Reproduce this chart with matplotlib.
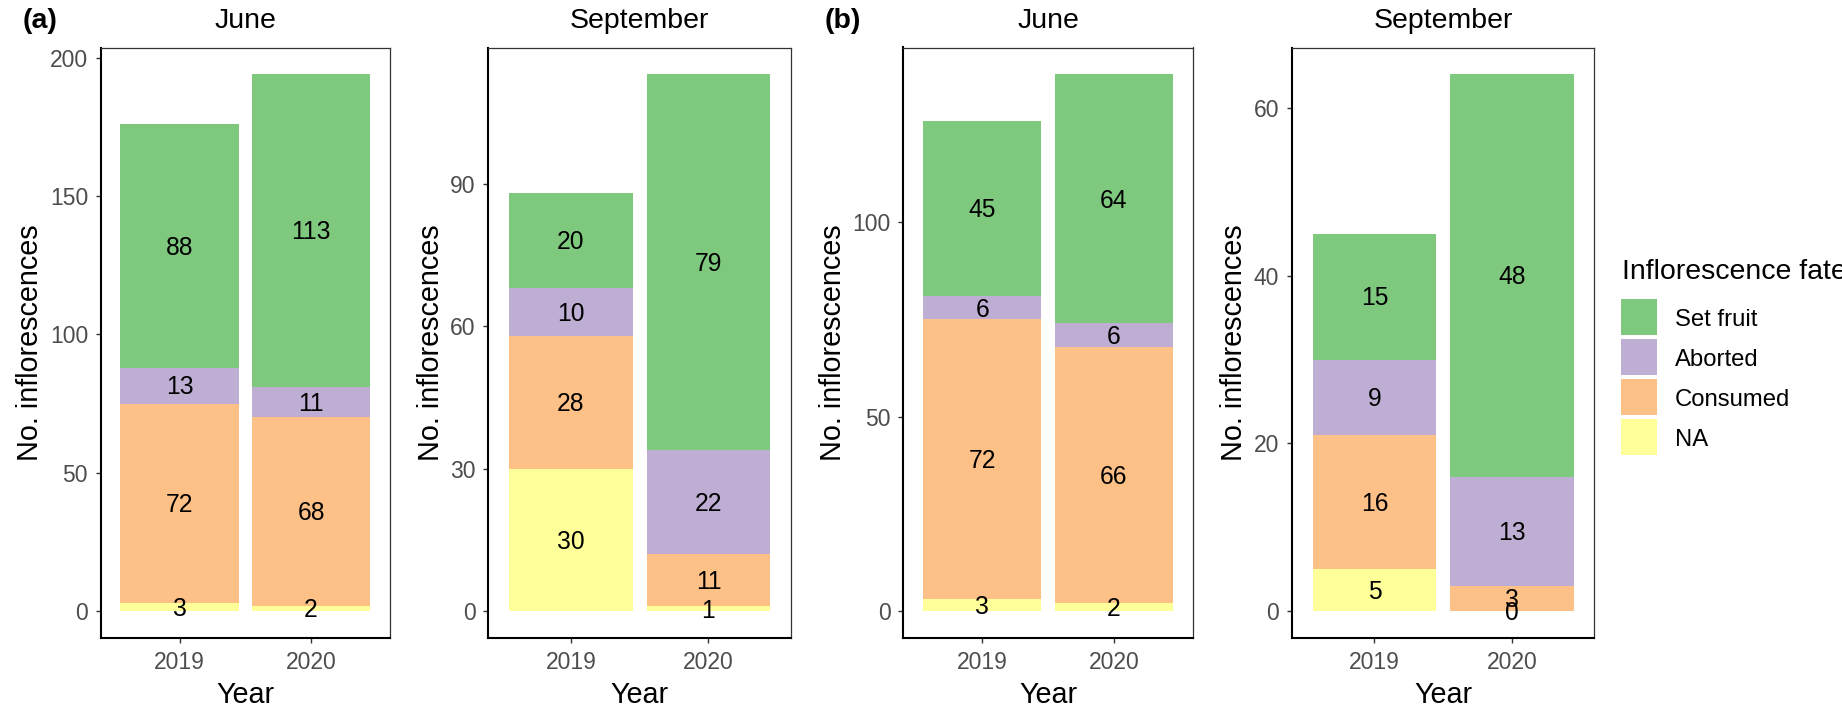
import matplotlib
matplotlib.use("Agg")
import matplotlib.pyplot as plt
from matplotlib.patches import Rectangle
from matplotlib.transforms import offset_copy

plt.rcParams["font.family"] = ["Liberation Sans", "DejaVu Sans"]

# ---- data -----------------------------------------------------------------
years = ["2019", "2020"]
fates = ["NA", "Consumed", "Aborted", "Set fruit"]          # stacking order, bottom -> top
fate_colors = ["#FFFF99", "#FDC086", "#BEAED4", "#7FC97F"]
legend_order = ["Set fruit", "Aborted", "Consumed", "NA"]

# counts per fate (NA, Consumed, Aborted, Set fruit) for 2019 and 2020
a_june_2019 = [3, 72, 13, 88]
a_june_2020 = [2, 68, 11, 113]
a_sept_2019 = [30, 28, 10, 20]
a_sept_2020 = [1, 11, 22, 79]
b_june_2019 = [3, 72, 6, 45]
b_june_2020 = [2, 66, 6, 64]
b_sept_2019 = [5, 16, 9, 15]
b_sept_2020 = [0, 3, 13, 48]

a_june_ticks = [0, 50, 100, 150, 200]
a_sept_ticks = [0, 30, 60, 90]
b_june_ticks = [0, 50, 100]
b_sept_ticks = [0, 20, 40, 60]

# ---- layout (pixels) --------------------------------------------------------
W, H = 1842, 708
fig = plt.figure(figsize=(W / 100, H / 100), dpi=100)


def px_axes(x0, y0, x1, y1):
    return fig.add_axes([x0 / W, 1 - y1 / H, (x1 - x0) / W, (y1 - y0) / H])


def fig_text(x, y, s, **kw):
    return fig.text(x / W, 1 - y / H, s, **kw)


TICK_FS = 16.5
LABEL_FS = 17.7
LEGEND_FS = 17.2
AXTITLE_FS = 20.7
TITLE_FS = 20.5


def stacked_panel(ax, vals_2019, vals_2020, ticks, title):
    xs = [1, 2]
    bottoms = [0, 0]
    for i, (fate, col) in enumerate(zip(fates, fate_colors)):
        heights = [vals_2019[i], vals_2020[i]]
        ax.bar(xs, heights, width=0.9, bottom=bottoms, color=col,
               edgecolor="none", zorder=2)
        for x, b, h in zip(xs, bottoms, heights):
            tr = offset_copy(ax.transData, fig=fig, x=0,
                             y=-0.358 * LABEL_FS, units="points")
            ax.text(x, b + h / 2, str(h), ha="center", va="baseline",
                    fontsize=LABEL_FS, color="black", transform=tr, zorder=3)
        bottoms = [b + h for b, h in zip(bottoms, heights)]

    top = max(bottoms)
    ax.set_ylim(-0.05 * top, 1.05 * top)
    ax.set_xlim(0.4, 2.6)
    ax.set_xticks(xs)
    ax.set_xticklabels(years)
    ax.set_yticks(ticks)
    ax.tick_params(axis="both", labelsize=TICK_FS, labelcolor="#4D4D4D",
                   color="#333333", length=3.6, width=1.0, pad=5.5)
    for side in ("left", "bottom"):
        ax.spines[side].set_color("black")
        ax.spines[side].set_linewidth(1.5)
    for side in ("top", "right"):
        ax.spines[side].set_color("#333333")
        ax.spines[side].set_linewidth(0.9)
    ax.set_xlabel("Year", fontsize=AXTITLE_FS, labelpad=5)
    ax.set_ylabel("No. inflorescences", fontsize=AXTITLE_FS, labelpad=4)

    # panel title centred above the plotting area
    pos = ax.get_position()
    cx = (pos.x0 + pos.x1) / 2 * W
    fig_text(cx, 28, title, ha="center", va="baseline", fontsize=TITLE_FS)


TOP, BOT = 47.5, 638
ax1 = px_axes(100.7, TOP, 390, BOT)
ax2 = px_axes(488.3, TOP, 791, BOT)
ax3 = px_axes(903.3, TOP, 1192.7, BOT)
ax4 = px_axes(1292, TOP, 1594.3, BOT)

stacked_panel(ax1, a_june_2019, a_june_2020, a_june_ticks, "June")
stacked_panel(ax2, a_sept_2019, a_sept_2020, a_sept_ticks, "September")
stacked_panel(ax3, b_june_2019, b_june_2020, b_june_ticks, "June")
stacked_panel(ax4, b_sept_2019, b_sept_2020, b_sept_ticks, "September")

fig_text(23, 28, "(a)", ha="left", va="baseline", fontsize=TITLE_FS,
         fontweight="bold")
fig_text(825, 28, "(b)", ha="left", va="baseline", fontsize=TITLE_FS,
         fontweight="bold")

# ---- legend -----------------------------------------------------------------
fig_text(1622, 279, "Inflorescence fate", ha="left", va="baseline",
         fontsize=TITLE_FS)
key_x, key_size, key_step, key_top = 1621, 36, 40, 299
for k, name in enumerate(legend_order):
    col = fate_colors[fates.index(name)]
    y0 = key_top + k * key_step
    fig.add_artist(Rectangle((key_x / W, 1 - (y0 + key_size) / H),
                             key_size / W, key_size / H,
                             transform=fig.transFigure, facecolor=col,
                             edgecolor="none"))
    fig_text(1675, y0 + key_size / 2 + 0.358 * LEGEND_FS * 100 / 72, name,
             ha="left", va="baseline", fontsize=LEGEND_FS)

fig.savefig("out.png", dpi=100, facecolor="white")
